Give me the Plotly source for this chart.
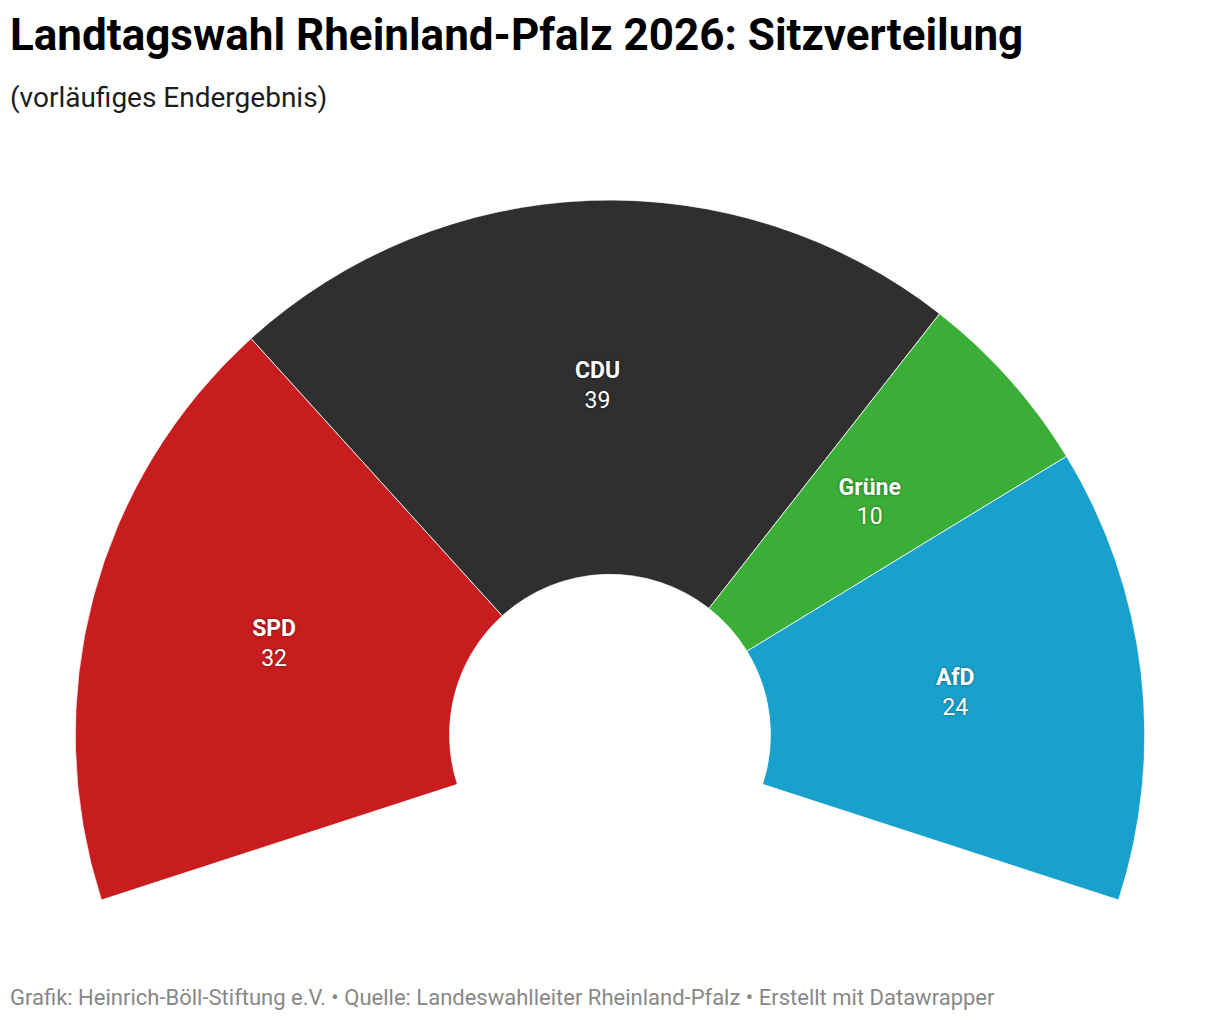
import plotly.graph_objects as go

parties = ["SPD", "CDU", "Grüne", "AfD"]
seats = [32, 39, 10, 24]
colors = ["#c81d1e", "#2f2f2f", "#3aae37", "#19a1cd"]

title = "Landtagswahl Rheinland-Pfalz 2026: Sitzverteilung"
subtitle = "(vorläufiges Endergebnis)"
footer = "Grafik: Heinrich-Böll-Stiftung e.V. • Quelle: Landeswahlleiter Rheinland-Pfalz • Erstellt mit Datawrapper"

# half circle opened a bit wider: 216 degrees for all seats
span = 216
total = sum(seats)
widths = [s / total * span for s in seats]
centers = []
start = 0
for w in widths:
    centers.append(start + w / 2)
    start += w

fig = go.Figure()
fig.add_trace(go.Barpolar(
    r=[1] * len(seats), base=0, theta=centers, width=widths,
    marker=dict(color=colors, line=dict(color="white", width=0.8)),
    hoverinfo="skip", showlegend=False,
))
fig.add_trace(go.Scatterpolar(
    r=[0.5] * len(seats), theta=centers, mode="text",
    text=["<b>%s</b><br>%d" % (p, s) for p, s in zip(parties, seats)],
    textfont=dict(family="Roboto", size=23, color="white",
                  shadow="0px 0px 3px rgba(0,0,0,0.45)"),
    hoverinfo="skip", showlegend=False,
))

# page body has an 8px margin, so shift the plot area back by that
fig.update_layout(
    width=1220, height=1020,
    margin=dict(l=67, r=83, t=192, b=128),
    paper_bgcolor="white",
    font=dict(family="Roboto"),
    polar=dict(
        sector=[-18, 198], hole=0.3, bgcolor="white",
        angularaxis=dict(rotation=198, direction="clockwise", visible=False),
        radialaxis=dict(range=[0, 1], visible=False),
    ),
    annotations=[
        dict(text="<b>%s</b>" % title, xref="paper", yref="paper", x=0, xshift=-67,
             y=1, yshift=165, xanchor="left", yanchor="middle", showarrow=False,
             font=dict(size=44, color="#000000")),
        dict(text=subtitle, xref="paper", yref="paper", x=0, xshift=-67,
             y=1, yshift=103, xanchor="left", yanchor="middle", showarrow=False,
             font=dict(size=28, color="#1d1d1d")),
        dict(text=footer, xref="paper", yref="paper", x=0, xshift=-67,
             y=0, yshift=-97, xanchor="left", yanchor="middle", showarrow=False,
             font=dict(size=22, color="#888888")),
    ],
)

fig.write_html("out.html")
